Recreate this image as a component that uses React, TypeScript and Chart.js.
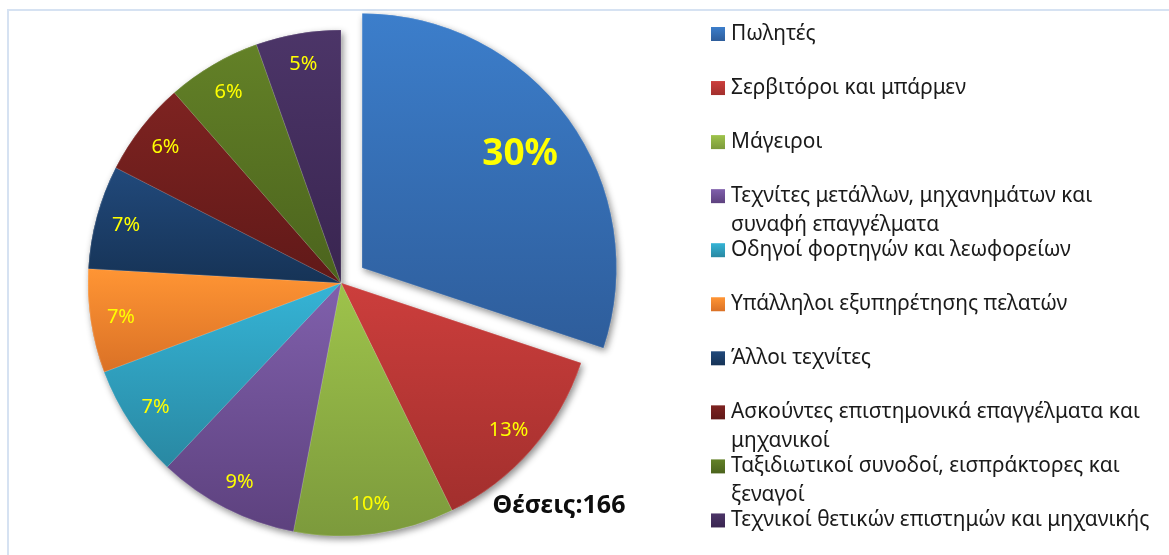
import React, { useEffect, useRef } from "react";
import { Chart, registerables } from "chart.js";

Chart.register(...registerables);

// ---------- DATA ----------
const categories: string[] = [
  "Πωλητές",
  "Σερβιτόροι και μπάρμεν",
  "Μάγειροι",
  "Τεχνίτες μετάλλων, μηχανημάτων και συναφή επαγγέλματα",
  "Οδηγοί φορτηγών και λεωφορείων",
  "Υπάλληλοι εξυπηρέτησης πελατών",
  "Άλλοι τεχνίτες",
  "Ασκούντες επιστημονικά επαγγέλματα και μηχανικοί",
  "Ταξιδιωτικοί συνοδοί, εισπράκτορες και ξεναγοί",
  "Τεχνικοί θετικών επιστημών και μηχανικής",
];
const positions: number[] = [50, 21, 17, 15, 12, 11, 11, 10, 10, 9];
const totalCaption = "Θέσεις:";

const colorsTop: string[] = [
  "#3C7ECB", "#CC3E3C", "#9EC34B", "#8060AC", "#35B4D6",
  "#FF9534", "#21497B", "#7E2321", "#638127", "#4C3568",
];
const colorsBottom: string[] = [
  "#2E5D9B", "#A22F2D", "#7C9A3C", "#5D417E", "#2988A2",
  "#DA7126", "#163356", "#601918", "#4B631D", "#392550",
];

// ---------- STYLE / GEOMETRY ----------
const W = 1169;
const H = 555;
const CX = 341;
const CY = 283;
const R = 253;
const EXPLODE = 26;
const FONT = '"Noto Sans", "DejaVu Sans", sans-serif';

function sliceGradient(c: any) {
  const chart = c.chart;
  const i = c.dataIndex;
  const area = chart.chartArea;
  if (!area || i === undefined || i === null) return colorsTop[0];
  const cx = (area.left + area.right) / 2;
  const cy = (area.top + area.bottom) / 2;
  const data = chart.data.datasets[0].data as number[];
  const total = data.reduce((a, b) => a + b, 0);
  let cum = 0;
  for (let k = 0; k < i; k++) cum += data[k];
  const a0 = -Math.PI / 2 + (cum / total) * 2 * Math.PI;
  const a1 = a0 + (data[i] / total) * 2 * Math.PI;
  const ys = [cy, cy + R * Math.sin(a0), cy + R * Math.sin(a1)];
  for (const t of [-Math.PI / 2, Math.PI / 2, (3 * Math.PI) / 2]) {
    if (t >= a0 && t <= a1) ys.push(cy + R * Math.sin(t));
  }
  const y0 = Math.min(...ys);
  const y1 = Math.max(...ys);
  const g = chart.ctx.createLinearGradient(0, y0, 0, y1 + 0.001);
  g.addColorStop(0, colorsTop[i]);
  g.addColorStop(1, colorsBottom[i]);
  return g;
}

const framePlugin = {
  id: "frame",
  beforeDraw(chart: any) {
    const ctx = chart.ctx;
    ctx.save();
    ctx.fillStyle = "#ffffff";
    ctx.fillRect(0, 0, W, H);
    ctx.fillStyle = "#D6E2F2";
    ctx.fillRect(7, 9, W - 7, 2);
    ctx.fillRect(7, 9, 2, H - 9);
    ctx.restore();
  },
};

const shadowPlugin = {
  id: "sliceShadow",
  beforeDatasetsDraw(chart: any) {
    const ctx = chart.ctx;
    const meta = chart.getDatasetMeta(0);
    ctx.save();
    ctx.shadowColor = "rgba(0,0,0,0.45)";
    ctx.shadowBlur = 7;
    ctx.shadowOffsetX = 2;
    ctx.shadowOffsetY = 3;
    meta.data.forEach((arc: any) => arc.draw(ctx));
    ctx.restore();
  },
};

const labelsPlugin = {
  id: "sliceLabels",
  afterDatasetsDraw(chart: any) {
    const ctx = chart.ctx;
    const meta = chart.getDatasetMeta(0);
    const data = chart.data.datasets[0].data as number[];
    const total = data.reduce((a, b) => a + b, 0);
    ctx.save();
    ctx.textAlign = "center";
    ctx.textBaseline = "middle";
    ctx.fillStyle = "#FFFF00";
    meta.data.forEach((arc: any, i: number) => {
      const p = arc.getProps(["x", "y", "startAngle", "endAngle", "outerRadius"], true);
      const mid = (p.startAngle + p.endAngle) / 2;
      const shift = (arc.options.offset || 0) / 4;
      const big = shift > 0;
      const lr = p.outerRadius * (big ? 0.77 : 0.88);
      const px = p.x + Math.cos(mid) * (shift + lr);
      const py = p.y + Math.sin(mid) * (shift + lr);
      ctx.font = big ? `bold 37px ${FONT}` : `20px ${FONT}`;
      ctx.fillText(Math.round((data[i] / total) * 100) + "%", px, py + 1);
    });
    // total caption
    ctx.fillStyle = "#0d0d0d";
    ctx.font = `bold 25px ${FONT}`;
    ctx.fillText(totalCaption + total, 559, 506);
    ctx.restore();
  },
};

function wrapText(ctx: CanvasRenderingContext2D, text: string, maxW: number): string[] {
  const words = text.split(" ");
  const lines: string[] = [];
  let cur = "";
  for (const w of words) {
    const test = cur ? cur + " " + w : w;
    if (cur && ctx.measureText(test).width > maxW) {
      lines.push(cur);
      cur = w;
    } else cur = test;
  }
  if (cur) lines.push(cur);
  return lines;
}

const legendPlugin = {
  id: "customLegend",
  afterDraw(chart: any) {
    const ctx = chart.ctx;
    const labels = chart.data.labels as string[];
    ctx.save();
    // fit font so that it resembles the reference width
    ctx.font = `20px ${FONT}`;
    const refW = ctx.measureText("Σερβιτόροι και μπάρμεν").width;
    const size = (20 * 235) / refW;
    ctx.font = `${size.toFixed(2)}px ${FONT}`;
    ctx.textAlign = "left";
    ctx.textBaseline = "middle";
    const x0 = 711;
    const tx = 731;
    const maxW = 1158 - tx;
    labels.forEach((lab, i) => {
      const y = 34 + 54.05 * i;
      const g = ctx.createLinearGradient(0, y - 7, 0, y + 7);
      g.addColorStop(0, colorsTop[i]);
      g.addColorStop(1, colorsBottom[i]);
      ctx.fillStyle = g;
      ctx.fillRect(x0, y - 7, 14, 14);
      ctx.fillStyle = "#1a1a1a";
      const lines = wrapText(ctx, lab, maxW);
      lines.forEach((ln, k) => ctx.fillText(ln, tx, y + k * 29));
    });
    ctx.restore();
  },
};

export default function App() {
  const ref = useRef<HTMLCanvasElement | null>(null);
  useEffect(() => {
    if (!ref.current) return;
    const chart = new Chart(ref.current, {
      type: "pie",
      data: {
        labels: categories,
        datasets: [
          {
            data: positions,
            backgroundColor: sliceGradient as any,
            borderWidth: 0.6,
            borderColor: "rgba(255,255,255,0.25)",
            offset: positions.map((_, i) => (i === 0 ? EXPLODE * 4 : 0)),
            hoverOffset: 0,
            radius: R,
          } as any,
        ],
      },
      options: {
        responsive: false,
        animation: false,
        events: [],
        layout: { padding: { left: 0, right: W - 2 * CX, top: 2 * CY - H, bottom: 0 } },
        plugins: {
          legend: { display: false },
          tooltip: { enabled: false },
        },
      },
      plugins: [framePlugin, shadowPlugin, labelsPlugin, legendPlugin],
    });
    return () => chart.destroy();
  }, []);
  return (
    <div style={{ position: "absolute", left: 0, top: 0, width: W, height: H, background: "#fff" }}>
      <canvas ref={ref} width={W} height={H} style={{ display: "block" }} />
    </div>
  );
}
